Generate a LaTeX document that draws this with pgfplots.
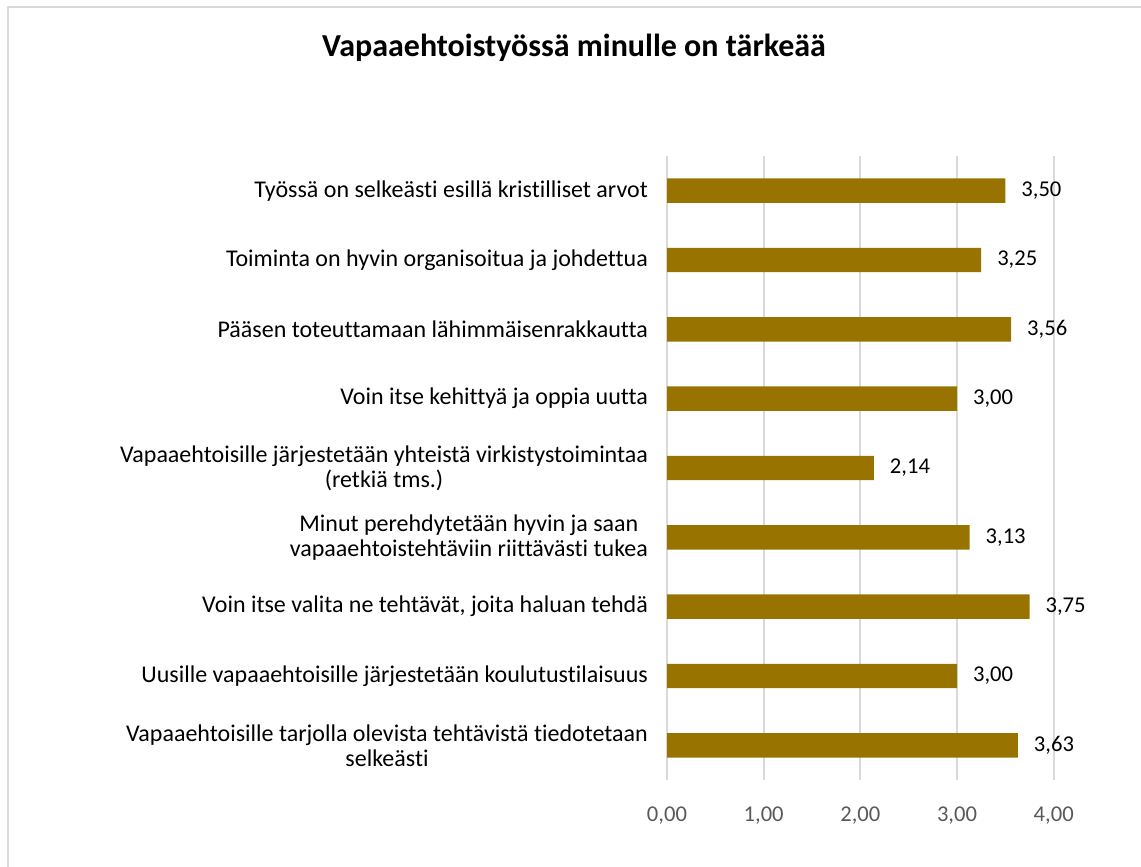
\documentclass[border=0pt]{standalone}
\usepackage{fontspec}
\setmainfont{Carlito}[Ligatures=NoCommon]
\usepackage{pgfplots}
\pgfplotsset{compat=1.18}
\definecolor{bargold}{HTML}{997300}
\definecolor{gridgray}{HTML}{D9D9D9}
\definecolor{ticktext}{HTML}{595959}
\begin{document}
\begin{tikzpicture}
\useasboundingbox (0,0) rectangle (570.5pt,-433.5pt);
% chart frame (only top and left edges are visible)
\draw[gridgray, line width=1pt] (4pt,-440pt) -- (4pt,-3.5pt) -- (580pt,-3.5pt);
\node[font=\fontsize{16}{19}\selectfont\bfseries] at (287pt,-24pt) {Vapaaehtoistyössä minulle on tärkeää};
\begin{axis}[
  at={(333.5pt,-390pt)}, anchor=south west,
  scale only axis,
  width=193.35pt, height=312pt,
  xbar, bar width=12.2pt,
  xmin=0, xmax=4,
  ymin=-0.5, ymax=8.5,
  y dir=reverse,
  xtick={0,1,2,3,4},
  ytick={0,...,8},
  yticklabels={
    Työssä on selkeästi esillä kristilliset arvot,
    Toiminta on hyvin organisoitua ja johdettua,
    Pääsen toteuttamaan lähimmäisenrakkautta,
    Voin itse kehittyä ja oppia uutta,
    {Vapaaehtoisille järjestetään yhteistä virkistystoimintaa\\(retkiä tms.)},
    {Minut perehdytetään hyvin ja saan\\vapaaehtoistehtäviin riittävästi tukea},
    {Voin itse valita ne tehtävät, joita haluan tehdä},
    Uusille vapaaehtoisille järjestetään koulutustilaisuus,
    {Vapaaehtoisille tarjolla olevista tehtävistä tiedotetaan\\selkeästi}
  },
  yticklabel style={align=center, font=\fontsize{12}{12.5}\selectfont, xshift=-6pt},
  xticklabel style={font=\fontsize{11.3}{13}\selectfont, text=ticktext, yshift=-10pt},
  /pgf/number format/assume math mode=true,
  /pgf/number format/.cd, fixed, fixed zerofill, precision=2, use comma,
  /pgfplots/.cd,
  xmajorgrids, grid style={gridgray, line width=1pt},
  axis line style={draw=none},
  major tick length=0pt,
  nodes near coords,
  nodes near coords style={font=\fontsize{11.3}{13}\selectfont, text=black, anchor=west, xshift=4.5pt,
    /pgf/number format/.cd, fixed, fixed zerofill, precision=2, use comma, assume math mode=true},
  clip=false,
]
\addplot[fill=bargold, draw=none] coordinates {
  (3.50,0) (3.25,1) (3.56,2) (3.00,3) (2.14,4) (3.13,5) (3.75,6) (3.00,7) (3.63,8)
};
\end{axis}
\end{tikzpicture}
\end{document}
